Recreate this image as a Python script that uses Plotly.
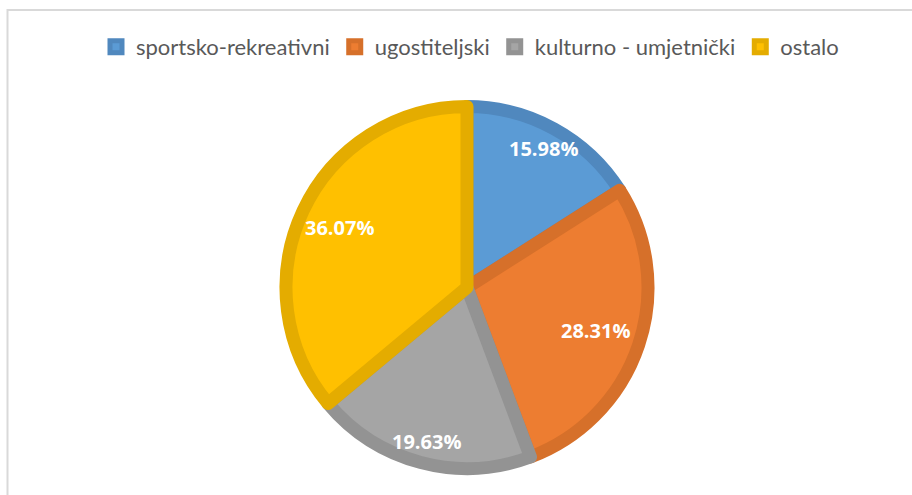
import math
import plotly.graph_objects as go

categories = ["sportsko-rekreativni", "ugostiteljski", "kulturno - umjetnički", "ostalo"]
values = [15.98, 28.31, 19.63, 36.07]
fill_colors = ["#5B9BD5", "#ED7D31", "#A5A5A5", "#FFC000"]
edge_colors = ["#5088BE", "#D6702A", "#939393", "#E4AC00"]

W, H = 912, 495
cx, cy = 467, 287.5          # pie centre (px from top-left)
stroke = 13
r_out = 187.5
r = r_out - stroke / 2       # radius of the geometric pie

fig = go.Figure(go.Pie(
    labels=categories,
    values=values,
    sort=False,
    direction="clockwise",
    rotation=0,
    marker=dict(colors=fill_colors, line=dict(color=edge_colors, width=stroke)),
    textinfo="none",
    hoverinfo="label+percent",
    domain=dict(x=[(cx - r) / W, (cx + r) / W], y=[(H - cy - r) / H, (H - cy + r) / H]),
))

# "inside end" data labels, positioned along each slice's bisector
total = sum(values)
label_edge = 174     # px from centre where the label box meets the bisector
hw, hh = 37, 14      # half size of a label box, px
annotations = []
cum = 0.0
for v in values:
    theta = (cum + v / 2) / total * 2 * math.pi
    cum += v
    s, c = math.sin(theta), math.cos(theta)
    inset = min(hw / abs(s) if abs(s) > 1e-6 else 1e9, hh / abs(c) if abs(c) > 1e-6 else 1e9)
    d = label_edge - inset
    px = cx + d * s
    py = cy - d * c
    annotations.append(dict(
        x=px / W, y=1 - py / H, xref="paper", yref="paper",
        text=f"{v:.2f}%", showarrow=False, xanchor="center", yanchor="middle",
        font=dict(family="Open Sans", size=20, color="white", weight="bold"),
    ))

fig.update_layout(
    width=W, height=H,
    margin=dict(l=0, r=0, t=0, b=0),
    paper_bgcolor="white",
    plot_bgcolor="white",
    showlegend=True,
    legend=dict(
        orientation="h", x=470 / W, xanchor="center", y=1 - 47 / H, yanchor="middle",
        font=dict(family="Lato", size=22, color="#595959"),
        itemwidth=30,
    ),
    annotations=annotations,
    shapes=[dict(type="rect", xref="paper", yref="paper",
                 x0=7.5 / W, x1=1.05, y0=-0.05, y1=1 - 10 / H,
                 line=dict(color="#D9D9D9", width=2), fillcolor="rgba(0,0,0,0)", layer="below")],
)

fig.write_html("out.html", config={"displayModeBar": False},
               post_script="document.body.style.margin='0';")
